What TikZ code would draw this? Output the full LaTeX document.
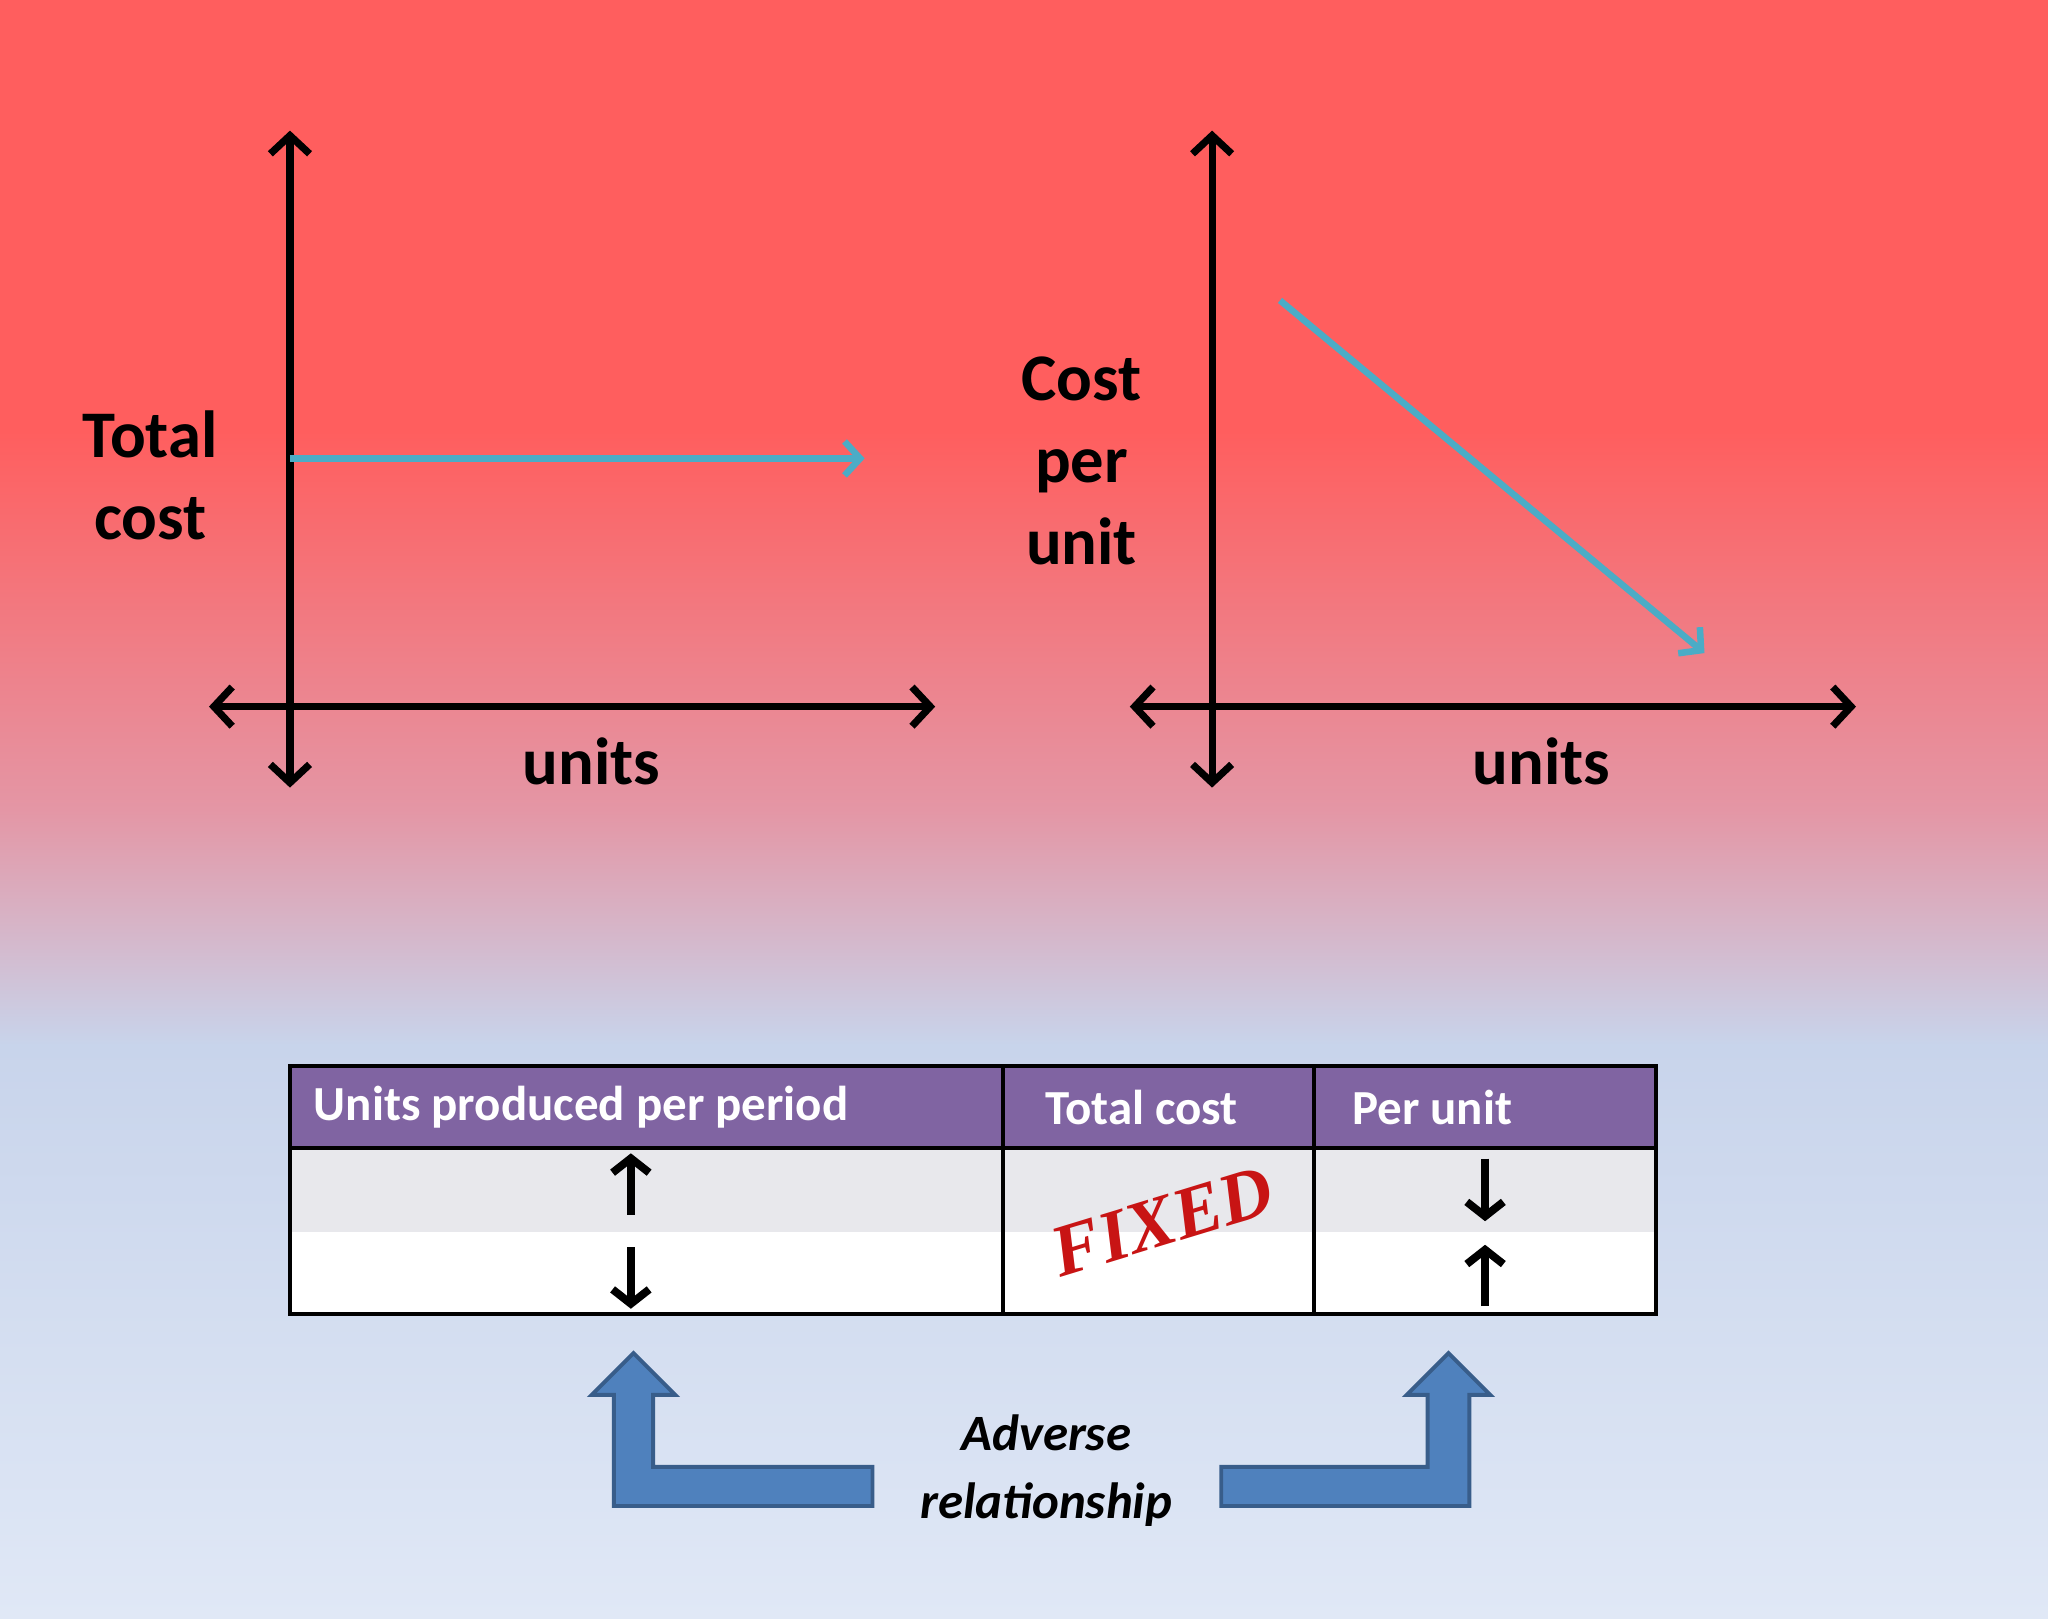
\documentclass[tikz,border=0pt]{standalone}
\usepackage{fontspec}
\setmainfont{Carlito}
\newfontfamily\stampfont{Liberation Serif}
\usetikzlibrary{arrows.meta}
\definecolor{bgA}{RGB}{255,94,94}
\definecolor{bgB}{RGB}{228,150,165}
\definecolor{bgC}{RGB}{200,212,235}
\definecolor{bgD}{RGB}{224,232,246}
\definecolor{hdr}{RGB}{128,100,162}
\definecolor{rowg}{RGB}{232,232,236}
\definecolor{cblue}{RGB}{75,172,198}
\definecolor{bfill}{RGB}{79,129,189}
\definecolor{bedge}{RGB}{56,93,138}
\definecolor{stamp}{RGB}{200,20,20}
\pgfdeclareverticalshading{bg}{100bp}{color(0bp)=(bgD); color(25bp)=(bgD); color(42.7bp)=(bgC); color(50bp)=(bgB); color(61.7bp)=(bgA); color(100bp)=(bgA)}
\tikzset{
 ax/.style={line width=5.5pt, {Straight Barb[length=14pt,width=30pt,line width=5.5pt]}-{Straight Barb[length=14pt,width=30pt,line width=5.5pt]}},
 cl/.style={line width=5pt, cblue, -{Straight Barb[length=12pt,width=26pt,line width=5pt]}},
 lab/.style={font=\bfseries\fontsize{51}{63}\selectfont, inner sep=0},
 hd/.style={font=\bfseries\fontsize{37.5}{40}\selectfont, text=white, anchor=west, inner sep=0},
 sa/.style={line width=6.5pt, -{Straight Barb[length=11pt,width=28pt,line width=6pt]}},
 blk/.style={fill=bfill, draw=bedge, line width=3pt},
}
\begin{document}
\begin{tikzpicture}[x=1pt,y=-1pt]
\useasboundingbox (0,0) rectangle (1568,1239);
\shade[shading=bg] (0,0) rectangle (1568,1239);
% left chart
\coordinate (l1) at (222,100); \coordinate (l2) at (222,603);
\coordinate (l3) at (160,541); \coordinate (l4) at (716,541);
\draw[ax] (l2) -- (l1); \draw[ax] (l3) -- (l4);
\coordinate (lb1) at (222,351); \coordinate (lb2) at (662,351);
\draw[cl] (lb1) -- (lb2);
\node[lab,align=center] (tc) at (115,364) {Total\\cost};
\node[lab] (u1) at (453,583) {units};
% right chart
\coordinate (r1) at (928,100); \coordinate (r2) at (928,603);
\coordinate (r3) at (865,541); \coordinate (r4) at (1421,541);
\draw[ax] (r2) -- (r1); \draw[ax] (r3) -- (r4);
\coordinate (rb1) at (980,230); \coordinate (rb2) at (1305,500);
\draw[cl] (rb1) -- (rb2);
\node[lab,align=center] (cpu) at (828,353) {Cost\\per\\unit};
\node[lab] (u2) at (1180,583) {units};
% table
\fill[hdr] (222,816) rectangle (1268,879);
\fill[rowg] (222,879) rectangle (1268,943);
\fill[white] (222,943) rectangle (1268,1006);
\draw[line width=3.5pt] (222,816) rectangle (1268,1006);
\draw[line width=3.5pt] (222,879) -- (1268,879);
\draw[line width=3.5pt] (768,816) -- (768,1006);
\draw[line width=3.5pt] (1006,816) -- (1006,1006);
\node[hd] (h1) at (240,848) {Units produced per period};
\node[hd] (h2) at (800,848) {Total cost};
\node[hd] (h3) at (1035,848) {Per unit};
\coordinate (a1) at (483,930); \coordinate (a2) at (483,883);
\coordinate (a3) at (483,955); \coordinate (a4) at (483,1002);
\coordinate (a5) at (1137,887); \coordinate (a6) at (1137,935);
\coordinate (a7) at (1137,1000); \coordinate (a8) at (1137,953);
\draw[sa] (a1) -- (a2); \draw[sa] (a3) -- (a4);
\draw[sa] (a5) -- (a6); \draw[sa] (a7) -- (a8);
\node[rotate=17, text=stamp, font=\stampfont\bfseries\itshape\fontsize{56}{60}\selectfont, inner sep=0] (fx) at (890,935) {FIXED};
% block arrows
\draw[blk] (668,1123) -- (500,1123) -- (500,1068) -- (517,1068) -- (485,1036) -- (453,1068) -- (470,1068) -- (470,1153) -- (668,1153) -- cycle;
\draw[blk] (935,1123) -- (1093,1123) -- (1093,1068) -- (1077,1068) -- (1109,1036) -- (1141,1068) -- (1125,1068) -- (1125,1153) -- (935,1153) -- cycle;
\node[align=center, font=\bfseries\itshape\fontsize{39}{52}\selectfont, inner sep=0] (adv) at (801,1126) {Adverse\\relationship};
\end{tikzpicture}
\end{document}
